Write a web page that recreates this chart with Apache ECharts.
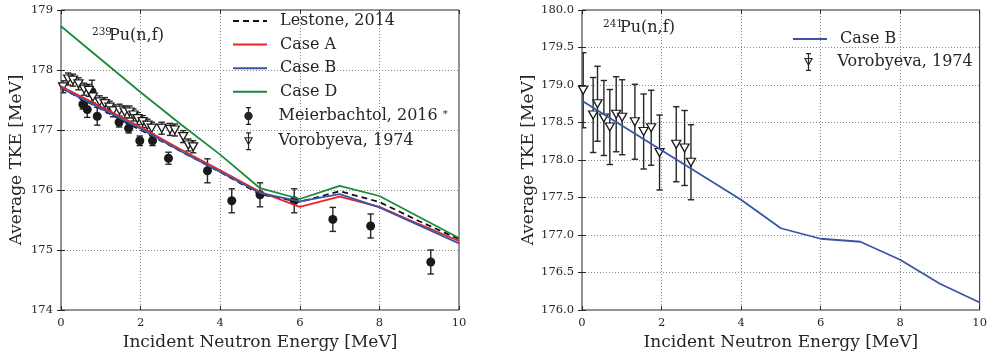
<!DOCTYPE html>
<html>
<head>
<meta charset="utf-8">
<script src="https://cdn.jsdelivr.net/npm/echarts@6/dist/echarts.min.js"></script>
<style>
  html, body { margin: 0; padding: 0; background: #ffffff; }
  #chart { width: 990px; height: 357px; }
</style>
</head>
<body>
<div id="chart"></div>
<script>
// model curves on a 1 MeV grid
const energy = [0, 1, 2, 3, 4, 5, 6, 7, 8, 9, 10];
const lestone239 = [177.70, 177.35, 177.00, 176.65, 176.30, 175.93, 175.80, 175.98, 175.80, 175.48, 175.18];
const caseA239 = [177.73, 177.39, 177.05, 176.68, 176.33, 175.97, 175.72, 175.89, 175.72, 175.43, 175.15];
const caseB239 = [177.70, 177.36, 177.02, 176.65, 176.30, 175.95, 175.81, 175.93, 175.71, 175.41, 175.11];
const caseD239 = [178.73, 178.18, 177.63, 177.10, 176.59, 176.03, 175.85, 176.07, 175.90, 175.55, 175.20];
const caseB241 = [178.79, 178.46, 178.13, 177.80, 177.47, 177.09, 176.95, 176.91, 176.67, 176.35, 176.10];

// Meierbachtol, 2016 (239Pu)
const meierE = [0.55, 0.66, 0.78, 0.91, 1.46, 1.70, 1.98, 2.30, 2.70, 3.68, 4.29, 5.00, 5.86, 6.83, 7.78, 9.29];
const meierTKE = [177.43, 177.34, 177.64, 177.23, 177.13, 177.03, 176.82, 176.82, 176.53, 176.32, 175.82, 175.92, 175.82, 175.51, 175.40, 174.80];
const meierErr = [0.08, 0.13, 0.19, 0.15, 0.08, 0.08, 0.08, 0.08, 0.1, 0.2, 0.2, 0.2, 0.2, 0.2, 0.2, 0.2];

// Vorobyeva, 1974 (239Pu)
const voroE239 = [0.05, 0.18, 0.30, 0.44, 0.58, 0.70, 0.80, 0.97, 1.10, 1.22, 1.31, 1.47, 1.60, 1.72, 1.82, 1.92, 2.05, 2.17, 2.28, 2.53, 2.74, 2.86, 3.07, 3.20, 3.32];
const voroTKE239 = [177.72, 177.85, 177.83, 177.77, 177.68, 177.66, 177.55, 177.47, 177.44, 177.38, 177.32, 177.33, 177.30, 177.30, 177.25, 177.19, 177.14, 177.08, 177.03, 177.03, 177.01, 177.00, 176.89, 176.75, 176.72];
const voroErr239 = [0.1, 0.1, 0.1, 0.1, 0.1, 0.1, 0.1, 0.1, 0.1, 0.1, 0.1, 0.1, 0.1, 0.1, 0.1, 0.1, 0.1, 0.1, 0.1, 0.1, 0.1, 0.1, 0.1, 0.1, 0.1];

// Vorobyeva, 1974 (241Pu)
const voroE241 = [0.03, 0.28, 0.39, 0.55, 0.70, 0.86, 1.01, 1.33, 1.55, 1.74, 1.95, 2.37, 2.58, 2.74];
const voroTKE241 = [178.93, 178.60, 178.75, 178.56, 178.44, 178.61, 178.57, 178.51, 178.38, 178.43, 178.10, 178.21, 178.16, 177.97];
const voroErr241 = [0.5, 0.5, 0.5, 0.5, 0.5, 0.5, 0.5, 0.5, 0.5, 0.5, 0.5, 0.5, 0.5, 0.5];

const FONT = '"DejaVu Serif", serif';
const INK = '#262626';
const RED = '#e8262a';
const BLUE = '#3a55a6';
const GREEN = '#1a8a3c';

const ICON_CIRCLE = 'path://M4.35,0 L5.65,0 L5.65,6 L4.35,6 Z M4.35,12 L5.65,12 L5.65,18 L4.35,18 Z M2.5,0 L7.5,0 L7.5,1.2 L2.5,1.2 Z M2.5,16.8 L7.5,16.8 L7.5,18 L2.5,18 Z M0.8,9 A4.2,4.2 0 1 1 9.2,9 A4.2,4.2 0 1 1 0.8,9 Z';
const ICON_TRI = 'path://M4.4,0 L5.6,0 L5.6,18 L4.4,18 Z M2.5,0 L7.5,0 L7.5,1.2 L2.5,1.2 Z M2.5,16.8 L7.5,16.8 L7.5,18 L2.5,18 Z M0.5,5 L9.5,5 L5,13.5 Z M2.4,6 L5,11.3 L7.6,6 Z';

function pairs(xs, ys) {
    return xs.map((x, i) => [x, ys[i]]);
}
function triples(xs, ys, es) {
    return xs.map((x, i) => [x, ys[i], es[i]]);
}

function errorBar(params, api) {
    const x = api.value(0);
    const y = api.value(1);
    const e = api.value(2);
    const top = api.coord([x, y + e]);
    const bot = api.coord([x, y - e]);
    const cap = 3.2;
    const st = { stroke: INK, lineWidth: 1.4 };
    return {
        type: 'group',
        children: [
            { type: 'line', shape: { x1: top[0], y1: top[1], x2: bot[0], y2: bot[1] }, style: st },
            { type: 'line', shape: { x1: top[0] - cap, y1: top[1], x2: top[0] + cap, y2: top[1] }, style: st },
            { type: 'line', shape: { x1: bot[0] - cap, y1: bot[1], x2: bot[0] + cap, y2: bot[1] }, style: st }
        ]
    };
}

const chart = echarts.init(document.getElementById('chart'));

function xAxisFor(grid, pos, show) {
    return {
        type: 'value', gridIndex: grid, position: pos, min: 0, max: 10, interval: 2,
        axisLine: { show: false },
        axisTick: { show: true, inside: true, length: 4, lineStyle: { color: INK } },
        axisLabel: { show: show, color: INK, fontFamily: FONT, fontSize: 11.5, margin: 7 },
        splitLine: show ? { show: true, showMinLine: false, showMaxLine: false, lineStyle: { color: '#8c8c8c', type: [1, 2] } } : { show: false },
        name: show ? 'Incident Neutron Energy [MeV]' : '',
        nameLocation: 'middle', nameGap: 21,
        nameTextStyle: { color: INK, fontFamily: FONT, fontSize: 17 }
    };
}

function yAxisFor(grid, pos, show, min, max, interval, gap, digits) {
    return {
        type: 'value', gridIndex: grid, position: pos, min: min, max: max, interval: interval,
        axisLine: { show: false },
        axisTick: { show: true, inside: true, length: 4, lineStyle: { color: INK } },
        axisLabel: {
            show: show, color: INK, fontFamily: FONT, fontSize: 11.5, margin: 8,
            formatter: v => v.toFixed(digits)
        },
        splitLine: show ? { show: true, showMinLine: false, showMaxLine: false, lineStyle: { color: '#8c8c8c', type: [1, 2] } } : { show: false },
        name: show ? 'Average TKE [MeV]' : '',
        nameLocation: 'middle', nameGap: gap,
        nameTextStyle: { color: INK, fontFamily: FONT, fontSize: 17 }
    };
}

function lineSeries(name, xi, yi, ys, color, dashed) {
    return {
        name: name, type: 'line', xAxisIndex: xi, yAxisIndex: yi,
        data: pairs(energy, ys), symbol: 'none', z: 3,
        lineStyle: { color: color, width: 1.8, type: dashed ? [6, 4] : 'solid' },
        itemStyle: { color: color }
    };
}

const lineLegendText = { color: INK, fontFamily: FONT, fontSize: 16, lineHeight: 14, padding: [0, 0, 0, 8] };

const option = {
    backgroundColor: '#ffffff',
    animation: false,
    grid: [
        { left: 61, top: 10, width: 398, height: 300, show: true, borderColor: INK, borderWidth: 1, backgroundColor: 'transparent' },
        { left: 582, top: 10, width: 399, height: 300, show: true, borderColor: INK, borderWidth: 1, backgroundColor: 'transparent' }
    ],
    xAxis: [
        xAxisFor(0, 'bottom', true),
        xAxisFor(1, 'bottom', true),
        xAxisFor(0, 'top', false),
        xAxisFor(1, 'top', false)
    ],
    yAxis: [
        yAxisFor(0, 'left', true, 174, 179, 1, 36, 0),
        yAxisFor(1, 'left', true, 176, 180, 0.5, 45, 1),
        yAxisFor(0, 'right', false, 174, 179, 1, 0, 0),
        yAxisFor(1, 'right', false, 176, 180, 0.5, 0, 1)
    ],
    legend: [
        {
            orient: 'vertical', left: 232, top: 13, padding: 0,
            itemWidth: 34, itemHeight: 14, itemGap: 7.6,
            itemStyle: { opacity: 0 },
            data: ['Lestone, 2014', 'Case A', 'Case B', 'Case D'],
            textStyle: lineLegendText
        },
        {
            orient: 'vertical', left: 244, top: 107, padding: 0,
            itemWidth: 10, itemHeight: 18, itemGap: 7.2,
            data: [
                { name: 'Meierbachtol, 2016', icon: ICON_CIRCLE, itemStyle: { color: INK, borderWidth: 0 } },
                { name: 'Vorobyeva, 1974', icon: ICON_TRI, itemStyle: { color: INK, borderWidth: 0 } }
            ],
            formatter: name => name === 'Meierbachtol, 2016' ? name + ' {s|*}' : name,
            textStyle: {
                color: INK, fontFamily: FONT, fontSize: 16, lineHeight: 14, padding: [0, 0, 0, 20],
                rich: { s: { fontSize: 10, fontFamily: FONT, color: INK, verticalAlign: 'top', lineHeight: 10 } }
            }
        },
        {
            orient: 'vertical', left: 792, top: 31, padding: 0,
            itemWidth: 34, itemHeight: 14, itemGap: 7.6,
            itemStyle: { opacity: 0 },
            data: ['Case B'],
            textStyle: lineLegendText
        },
        {
            orient: 'vertical', left: 804, top: 53, padding: 0,
            itemWidth: 10, itemHeight: 18, itemGap: 7.6,
            data: [{ name: 'Vorobyeva, 1974', icon: ICON_TRI, itemStyle: { color: INK, borderWidth: 0 } }],
            textStyle: { color: INK, fontFamily: FONT, fontSize: 16, lineHeight: 14, padding: [0, 0, 0, 19] }
        }
    ],
    graphic: [
        { type: 'text', left: 92, top: 27, style: { text: '239', fill: INK, font: '10.5px ' + FONT } },
        { type: 'text', left: 109, top: 28, style: { text: 'Pu(n,f)', fill: INK, font: '16px ' + FONT } },
        { type: 'text', left: 603, top: 19, style: { text: '241', fill: INK, font: '10.5px ' + FONT } },
        { type: 'text', left: 620, top: 20, style: { text: 'Pu(n,f)', fill: INK, font: '16px ' + FONT } }
    ],
    series: [
        // 239Pu
        {
            name: 'Meierbachtol, 2016', type: 'custom', xAxisIndex: 0, yAxisIndex: 0,
            renderItem: errorBar, clip: true, itemStyle: { color: INK },
            encode: { x: 0, y: 1 }, data: triples(meierE, meierTKE, meierErr), z: 2
        },
        {
            name: 'Meierbachtol, 2016', type: 'scatter', xAxisIndex: 0, yAxisIndex: 0,
            symbol: 'circle', symbolSize: 9, itemStyle: { color: '#1a1a1a', opacity: 1 },
            data: pairs(meierE, meierTKE), z: 2
        },
        {
            name: 'Vorobyeva, 1974', type: 'custom', xAxisIndex: 0, yAxisIndex: 0,
            renderItem: errorBar, clip: true, itemStyle: { color: INK },
            encode: { x: 0, y: 1 }, data: triples(voroE239, voroTKE239, voroErr239), z: 2
        },
        {
            name: 'Vorobyeva, 1974', type: 'scatter', xAxisIndex: 0, yAxisIndex: 0,
            symbol: 'triangle', symbolRotate: 180, symbolSize: [9, 8],
            itemStyle: { color: '#ffffff', borderColor: '#1a1a1a', borderWidth: 1.3, opacity: 1 },
            data: pairs(voroE239, voroTKE239), z: 2
        },
        lineSeries('Lestone, 2014', 0, 0, lestone239, '#111111', true),
        lineSeries('Case A', 0, 0, caseA239, RED, false),
        lineSeries('Case B', 0, 0, caseB239, BLUE, false),
        lineSeries('Case D', 0, 0, caseD239, GREEN, false),
        // 241Pu
        {
            name: 'Vorobyeva, 1974', type: 'custom', xAxisIndex: 1, yAxisIndex: 1,
            renderItem: errorBar, clip: true, itemStyle: { color: INK },
            encode: { x: 0, y: 1 }, data: triples(voroE241, voroTKE241, voroErr241), z: 2
        },
        {
            name: 'Vorobyeva, 1974', type: 'scatter', xAxisIndex: 1, yAxisIndex: 1,
            symbol: 'triangle', symbolRotate: 180, symbolSize: [9, 8],
            itemStyle: { color: '#ffffff', borderColor: '#1a1a1a', borderWidth: 1.3, opacity: 1 },
            data: pairs(voroE241, voroTKE241), z: 2
        },
        lineSeries('Case B', 1, 1, caseB241, BLUE, false)
    ]
};

chart.setOption(option);
</script>
</body>
</html>
